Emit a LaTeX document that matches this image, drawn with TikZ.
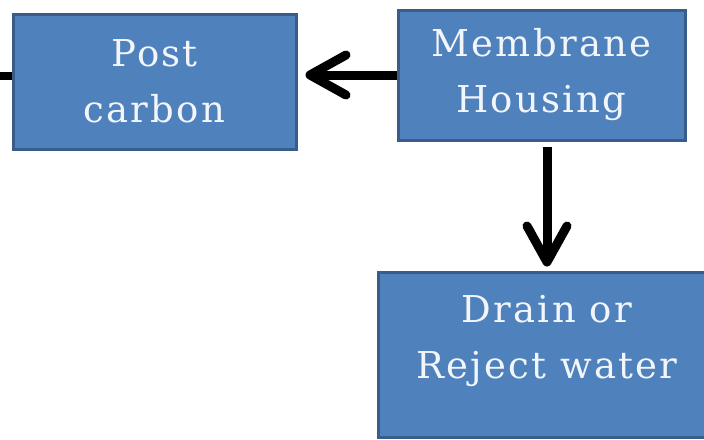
\documentclass[tikz,border=0pt]{standalone}
\usepackage{fontspec}
\usepackage{tikz}
\usetikzlibrary{arrows.meta, calc}
\newfontfamily\boxfont[LetterSpace=6]{DejaVu Serif}
\definecolor{boxblue}  {RGB}{79, 129, 189}
\definecolor{boxedge}  {RGB}{56,  93, 138}
\definecolor{boxtext}  {RGB}{242, 246, 250}
\tikzset{
	stage/.style={draw=boxedge, line width=3pt, fill=boxblue, text=boxtext,
		align=center, inner sep=0pt,
		font=\boxfont\fontsize{37}{56}\selectfont},
	flow/.style={line width=9pt, -{Straight Barb[length=36pt,width=40pt,round]}}
}

\begin{document}
\begin{tikzpicture}[x=1pt, y=-1pt]
	\clip (0,0) rectangle (704,439);
	\node[stage, minimum width=283pt, minimum height=135pt] (post) at (154.5,81.5) {Post\\carbon};
	\node[stage, minimum width=287pt, minimum height=130pt] (mem) at (541.5,75) {Membrane\\Housing};
	\node[stage, minimum width=338pt, minimum height=165pt] (drain) at (547,354.5) {Drain or\\Reject water\\[-38pt]\strut};
	\coordinate (inlet) at (0,76);
	% connectors
	\draw[line width=8pt] (inlet) -- (inlet -| post.west);
	\draw[flow, shorten >=8pt] (mem.west) -- (mem.west -| post.east);
	\draw[flow, shorten <=5pt, shorten >=4pt] (drain.north |- mem.south) -- (drain.north);
\end{tikzpicture}
\end{document}
